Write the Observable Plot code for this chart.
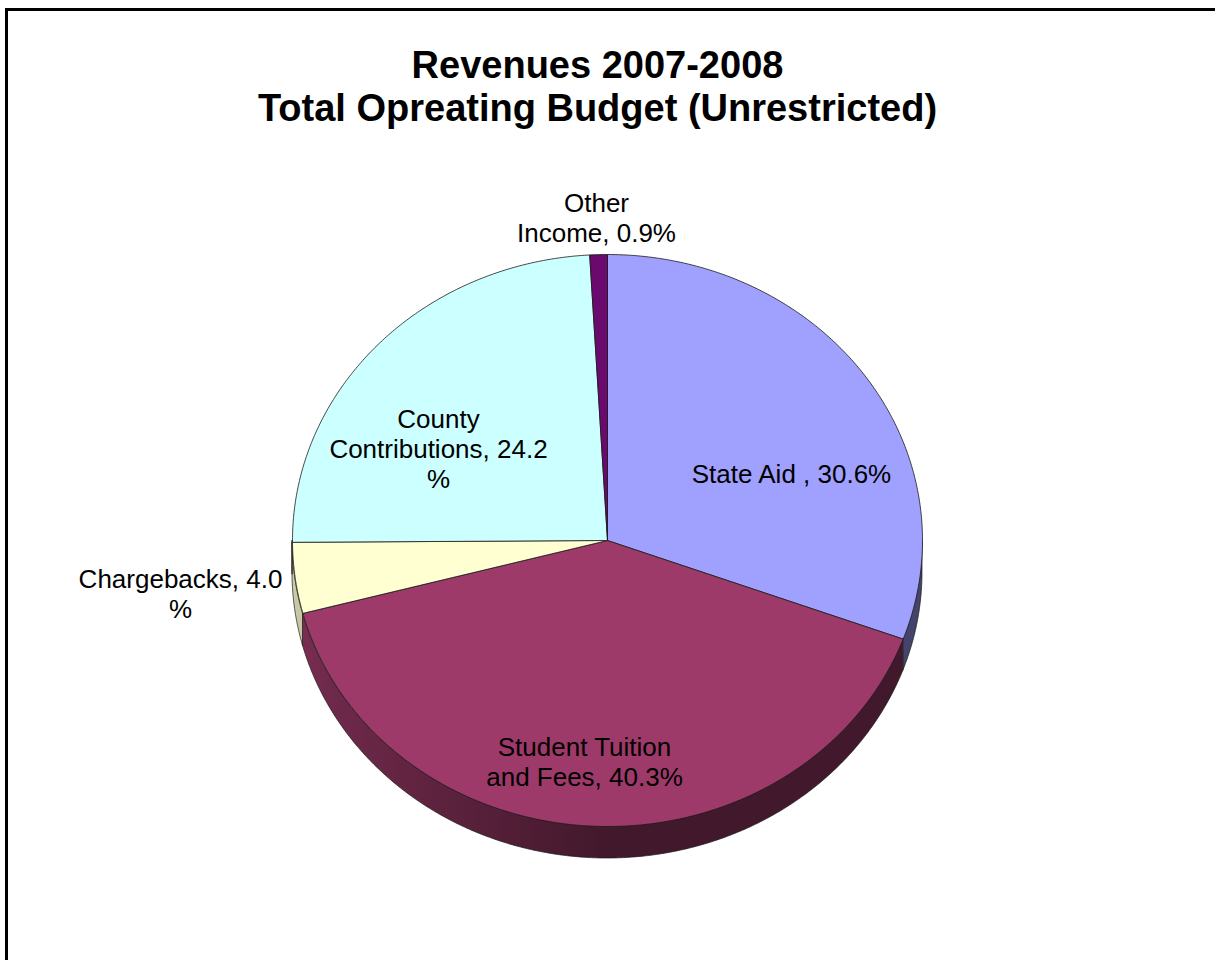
<!DOCTYPE html>
<html>
<head>
<meta charset="utf-8">
<script src="https://cdn.jsdelivr.net/npm/d3@7"></script>
<script src="https://cdn.jsdelivr.net/npm/@observablehq/plot@0.6"></script>
<style>
  html, body { margin: 0; padding: 0; background: #fff; }
  #wrap { position: relative; width: 1215px; height: 960px; overflow: hidden; background: #fff; }
  #frame { position: absolute; left: 5px; top: 8px; width: 1300px; height: 1100px;
           border-left: 3px solid #000; border-top: 3px solid #000; box-sizing: border-box; }
  #title { position: absolute; left: 0; top: 0; width: 1215px; height: 140px; box-sizing: border-box;
           padding-top: 44px; padding-right: 20px; text-align: center;
           font: bold 38px/43px "Liberation Sans", Arial, sans-serif; color: #000; }
  #chart { position: absolute; left: 0; top: 140px; }
</style>
</head>
<body>
<div id="wrap">
  <div id="frame"></div>
  <div id="title">Revenues 2007-2008<br>Total Opreating Budget (Unrestricted)</div>
  <div id="chart"></div>
</div>
<script>
// ---- data ----
const categories = ["State Aid", "Student Tuition and Fees", "Chargebacks", "County Contributions", "Other Income"];
const shares = [30.6, 40.3, 4.0, 24.2, 0.9];
const labelTexts = ["State Aid , 30.6%", "Student Tuition\nand Fees, 40.3%", "Chargebacks, 4.0\n%", "County\nContributions, 24.2\n%", "Other\nIncome, 0.9%"];

// ---- styles / layout ----
const palette = ["#a0a0ff", "#9e3a69", "#ffffd2", "#ccffff", "#6a0a6e"];
const W = 1215, H = 820;
const cx = 607, cy = 400, rx = 315, ry = 286, depth = 32;
// label anchor points (layout)
const labelAnchor = {
  "State Aid": [791, 333],
  "Student Tuition and Fees": [584, 621],
  "Chargebacks": [180, 453],
  "County Contributions": [438, 308],
  "Other Income": [596, 77]
};

const rows = categories.map((c, i) => ({category: c, value: shares[i], label: labelTexts[i]}));
const arcs = d3.pie().sort(null).value(d => d.value)(rows);

const step = Math.PI / 360;
const px = a => cx + rx * Math.sin(a);
const py = a => cy - ry * Math.cos(a);

// top slices
const topPts = [];
arcs.forEach(a => {
  const c = a.data.category;
  topPts.push({category: c, x: cx, y: cy});
  const n = Math.max(2, Math.ceil((a.endAngle - a.startAngle) / step));
  for (let k = 0; k <= n; k++) {
    const t = a.startAngle + (a.endAngle - a.startAngle) * k / n;
    topPts.push({category: c, x: px(t), y: py(t)});
  }
  topPts.push({category: c, x: cx, y: cy});
});

// side bands (front half only)
const sideMarks = [];
arcs.forEach((a, i) => {
  const s0 = Math.max(a.startAngle, Math.PI / 2);
  const s1 = Math.min(a.endAngle, 3 * Math.PI / 2);
  if (s1 <= s0) return;
  const pts = [];
  const n = Math.max(2, Math.ceil((s1 - s0) / step));
  for (let k = 0; k <= n; k++) {
    const t = s0 + (s1 - s0) * k / n;
    pts.push({x: px(t), y1: py(t), y2: py(t) + depth});
  }
  sideMarks.push(Plot.areaY(pts, {x: "x", y1: "y1", y2: "y2", fill: `url(#side-${i})`,
    stroke: "#1a1a1a", strokeWidth: 0.7, strokeLinejoin: "round"}));
});

const labels = rows.map(r => ({text: r.label, x: labelAnchor[r.category][0], y: labelAnchor[r.category][1]}));

const svg = Plot.plot({
  width: W, height: H,
  margin: 0,
  x: {domain: [0, W], range: [0, W], axis: null},
  y: {domain: [0, H], range: [0, H], axis: null},
  color: {domain: categories, range: palette},
  style: {fontFamily: "'Liberation Sans', Arial, sans-serif", overflow: "visible", background: "transparent"},
  marks: [
    ...sideMarks,
    Plot.line(topPts, {x: "x", y: "y", z: "category", fill: "category", stroke: "#1a1a1a", strokeWidth: 0.8, strokeLinejoin: "round"}),
    Plot.text(labels, {x: "x", y: "y", text: "text", fontSize: 26, lineHeight: 1.15, fill: "#000"})
  ]
});

// gradients for side shading
const defs = d3.select(svg).insert("defs", ":first-child");
arcs.forEach((a, i) => {
  const base = d3.rgb(palette[i]);
  const shade = f => d3.rgb(base.r * f, base.g * f, base.b * f).formatHex();
  const g = defs.append("linearGradient").attr("id", `side-${i}`)
    .attr("gradientUnits", "userSpaceOnUse")
    .attr("x1", cx - rx).attr("x2", cx + rx).attr("y1", 0).attr("y2", 0);
  [[0, 0.8], [0.06, 0.7], [0.5, 0.42], [1, 0.42]].forEach(([o, f]) =>
    g.append("stop").attr("offset", o).attr("stop-color", shade(f)));
});

document.getElementById("chart").appendChild(svg);
</script>
</body>
</html>
